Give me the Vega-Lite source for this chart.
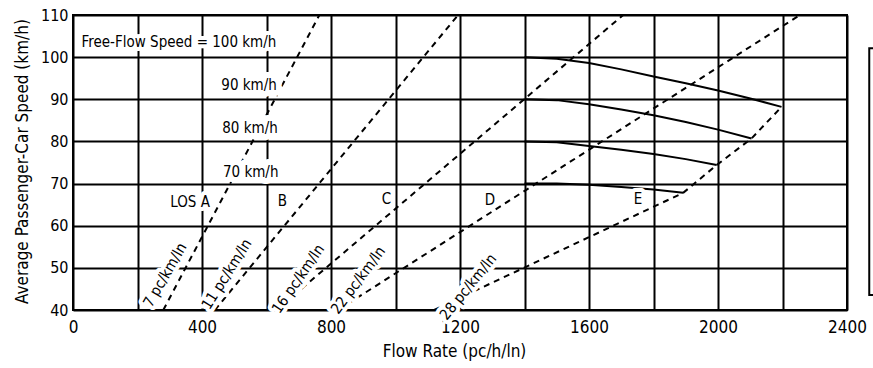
{
  "$schema": "https://vega.github.io/schema/vega-lite/v6.json",
  "width": 774,
  "height": 295,
  "autosize": {"type": "none"},
  "padding": {"left": 73, "top": 15, "right": 26, "bottom": 58},
  "background": "white",
  "config": {
    "view": {"stroke": "black", "strokeWidth": 2},
    "font": "DejaVu Sans Condensed, Liberation Sans Narrow, sans-serif",
    "text": {"color": "black"}
  },
  "datasets": {
    "curves": [
      {"ffs": 100, "flow": 1400, "speed": 100},
      {"ffs": 100, "flow": 1500, "speed": 99.6},
      {"ffs": 100, "flow": 1600, "speed": 98.6},
      {"ffs": 100, "flow": 1700, "speed": 97.1},
      {"ffs": 100, "flow": 1800, "speed": 95.4},
      {"ffs": 100, "flow": 1900, "speed": 93.8},
      {"ffs": 100, "flow": 2000, "speed": 92.1},
      {"ffs": 100, "flow": 2100, "speed": 90.2},
      {"ffs": 100, "flow": 2197, "speed": 88.2},
      {"ffs": 90, "flow": 1400, "speed": 90},
      {"ffs": 90, "flow": 1500, "speed": 89.8},
      {"ffs": 90, "flow": 1600, "speed": 88.8},
      {"ffs": 90, "flow": 1700, "speed": 87.6},
      {"ffs": 90, "flow": 1800, "speed": 86.2},
      {"ffs": 90, "flow": 1900, "speed": 84.6},
      {"ffs": 90, "flow": 2000, "speed": 82.8},
      {"ffs": 90, "flow": 2104, "speed": 80.7},
      {"ffs": 80, "flow": 1400, "speed": 80},
      {"ffs": 80, "flow": 1500, "speed": 79.8},
      {"ffs": 80, "flow": 1600, "speed": 78.9},
      {"ffs": 80, "flow": 1700, "speed": 78.0},
      {"ffs": 80, "flow": 1800, "speed": 77.0},
      {"ffs": 80, "flow": 1900, "speed": 75.8},
      {"ffs": 80, "flow": 1996, "speed": 74.4},
      {"ffs": 70, "flow": 1400, "speed": 70},
      {"ffs": 70, "flow": 1500, "speed": 70},
      {"ffs": 70, "flow": 1600, "speed": 69.7},
      {"ffs": 70, "flow": 1700, "speed": 69.2},
      {"ffs": 70, "flow": 1800, "speed": 68.6},
      {"ffs": 70, "flow": 1892, "speed": 67.8}
    ],
    "density": [
      {"d": 7, "flow": 280, "speed": 40},
      {"d": 7, "flow": 764, "speed": 110},
      {"d": 11, "flow": 440, "speed": 40},
      {"d": 11, "flow": 1194, "speed": 110},
      {"d": 16, "flow": 631, "speed": 40},
      {"d": 16, "flow": 1706, "speed": 110},
      {"d": 22, "flow": 822, "speed": 40},
      {"d": 22, "flow": 2254, "speed": 110},
      {"d": 28, "flow": 1120, "speed": 40},
      {"d": 28, "flow": 1892, "speed": 67.8},
      {"d": 28, "flow": 1996, "speed": 74.4},
      {"d": 28, "flow": 2104, "speed": 80.7},
      {"d": 28, "flow": 2197, "speed": 88.2}
    ],
    "frame": [
      {"flow": 2469, "flow2": 2560, "speed": 43.55, "speed2": 102.1}
    ],
    "labels": [
      {"text": "Free-Flow Speed = 100 km/h", "flow": 328.6, "speed": 103.7, "kind": "ffs"},
      {"text": "90 km/h", "flow": 546, "speed": 93.4, "kind": "speed"},
      {"text": "80 km/h", "flow": 549, "speed": 83.1, "kind": "speed"},
      {"text": "70 km/h", "flow": 551, "speed": 72.8, "kind": "speed"},
      {"text": "LOS A", "flow": 363, "speed": 65.7, "kind": "los"},
      {"text": "B", "flow": 649, "speed": 65.9, "kind": "los"},
      {"text": "C", "flow": 972, "speed": 66.3, "kind": "los"},
      {"text": "D", "flow": 1293, "speed": 66.1, "kind": "los"},
      {"text": "E", "flow": 1752, "speed": 66.3, "kind": "los"},
      {"text": "7 pc/km/ln", "flow": 285, "speed": 48.3, "kind": "density"},
      {"text": "11 pc/km/ln", "flow": 476, "speed": 48.5, "kind": "density"},
      {"text": "16 pc/km/ln", "flow": 698, "speed": 47.4, "kind": "density"},
      {"text": "22 pc/km/ln", "flow": 884, "speed": 47.1, "kind": "density"},
      {"text": "28 pc/km/ln", "flow": 1225, "speed": 45.5, "kind": "density"}
    ]
  },
  "encoding": {
    "x": {
      "field": "flow", "type": "quantitative",
      "scale": {"domain": [0, 2400], "nice": false, "zero": false},
      "axis": {
        "title": "Flow Rate (pc/h/ln)",
        "values": [0, 200, 400, 600, 800, 1000, 1200, 1400, 1600, 1800, 2000, 2200, 2400],
        "format": "d",
        "labelExpr": "datum.value % 400 === 0 ? datum.label : ''",
        "grid": true, "gridColor": "black", "gridWidth": 2, "gridOpacity": 1,
        "domain": false, "ticks": false,
        "labelPadding": 9, "labelFontSize": 17, "labelColor": "black",
        "labelFlush": false, "labelOverlap": false,
        "titleFontSize": 17, "titleFontWeight": "normal", "titleColor": "black",
        "titleX": 381, "titleY": 46.5, "titleBaseline": "alphabetic", "titleAlign": "center"
      }
    },
    "y": {
      "field": "speed", "type": "quantitative",
      "scale": {"domain": [40, 110], "nice": false, "zero": false},
      "axis": {
        "title": "Average Passenger-Car Speed (km/h)",
        "values": [40, 50, 60, 70, 80, 90, 100, 110],
        "grid": true, "gridColor": "black", "gridWidth": 2, "gridOpacity": 1,
        "domain": false, "ticks": false,
        "labelPadding": 5, "labelFontSize": 16, "labelColor": "black",
        "labelFlush": false, "labelOverlap": false,
        "titleFontSize": 17, "titleFontWeight": "normal", "titleColor": "black",
        "titleAngle": 270, "titleX": -46, "titleY": 146, "titleBaseline": "alphabetic", "titleAlign": "center"
      }
    }
  },
  "layer": [
    {
      "data": {"name": "curves"},
      "mark": {"type": "line", "color": "black", "strokeWidth": 2},
      "encoding": {
        "detail": {"field": "ffs", "type": "nominal"}
      }
    },
    {
      "data": {"name": "density"},
      "mark": {"type": "line", "color": "black", "strokeWidth": 2, "strokeDash": [6, 5]},
      "encoding": {
        "detail": {"field": "d", "type": "nominal"}
      }
    },
    {
      "data": {"name": "frame"},
      "mark": {"type": "rect", "fill": "transparent", "stroke": "black", "strokeWidth": 2, "clip": false},
      "encoding": {
        "x2": {"field": "flow2"},
        "y2": {"field": "speed2"}
      }
    },
    {
      "data": {"name": "labels"},
      "transform": [{"filter": "datum.kind === 'ffs' || datum.kind === 'los'"}],
      "mark": {"type": "text", "fontSize": 15, "fill": "white", "stroke": "white", "strokeWidth": 8, "strokeJoin": "round", "align": "center", "baseline": "middle"},
      "encoding": {
        "text": {"field": "text"}
      }
    },
    {
      "data": {"name": "labels"},
      "transform": [{"filter": "datum.kind === 'speed'"}],
      "mark": {"type": "text", "fontSize": 15, "fill": "white", "stroke": "white", "strokeWidth": 12, "strokeJoin": "round", "align": "center", "baseline": "middle"},
      "encoding": {
        "text": {"field": "text"}
      }
    },
    {
      "data": {"name": "labels"},
      "transform": [{"filter": "datum.kind === 'density'"}],
      "mark": {"type": "text", "fontSize": 15, "fill": "white", "stroke": "white", "strokeWidth": 8, "strokeJoin": "round", "align": "center", "baseline": "middle"},
      "encoding": {
        "text": {"field": "text"},
        "angle": {"field": "text", "type": "ordinal", "scale": {"domain": ["7 pc/km/ln", "11 pc/km/ln", "16 pc/km/ln", "22 pc/km/ln", "28 pc/km/ln"], "range": [300, 309, 320, 326, 334]}, "legend": null}
      }
    },
    {
      "data": {"name": "labels"},
      "transform": [{"filter": "datum.kind !== 'density'"}],
      "mark": {"type": "text", "fontSize": 15, "color": "black", "align": "center", "baseline": "middle"},
      "encoding": {
        "text": {"field": "text"}
      }
    },
    {
      "data": {"name": "labels"},
      "transform": [{"filter": "datum.kind === 'density'"}],
      "mark": {"type": "text", "fontSize": 15, "color": "black", "align": "center", "baseline": "middle"},
      "encoding": {
        "text": {"field": "text"},
        "angle": {"field": "text", "type": "ordinal", "scale": {"domain": ["7 pc/km/ln", "11 pc/km/ln", "16 pc/km/ln", "22 pc/km/ln", "28 pc/km/ln"], "range": [300, 309, 320, 326, 334]}, "legend": null}
      }
    }
  ]
}
